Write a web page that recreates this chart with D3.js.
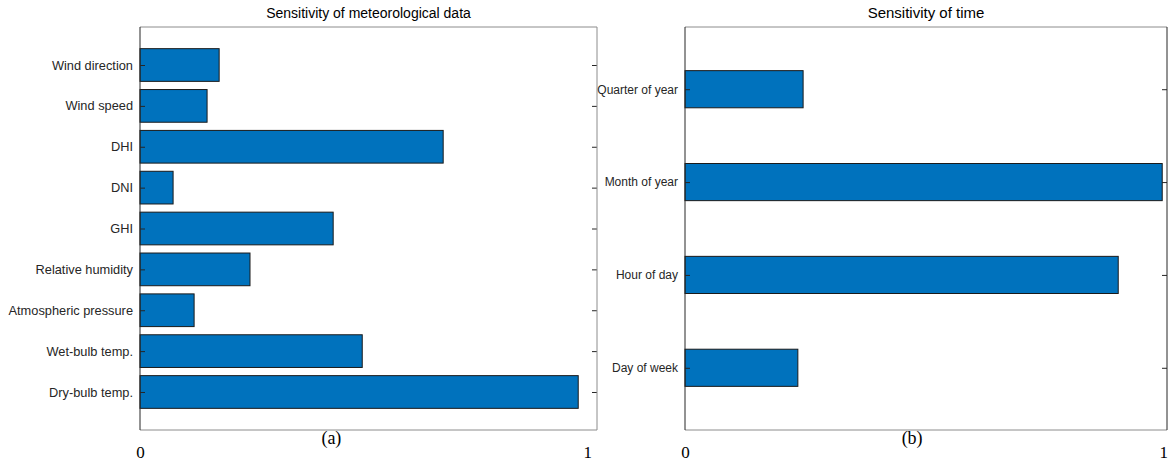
<!DOCTYPE html>
<html>
<head>
<meta charset="utf-8">
<script src="https://cdn.jsdelivr.net/npm/d3@7"></script>
<style>
  html, body { margin: 0; padding: 0; background: #fff; }
  svg { display: block; }
</style>
</head>
<body>
<svg id="chart" width="1173" height="461"></svg>
<script>
// ---- data ----
const metCategories = ["Dry-bulb temp.", "Wet-bulb temp.", "Atmospheric pressure", "Relative humidity", "GHI", "DNI", "DHI", "Wind speed", "Wind direction"];
const metValues = [0.980, 0.497, 0.121, 0.246, 0.432, 0.074, 0.678, 0.150, 0.177];
const timeCategories = ["Day of week", "Hour of day", "Month of year", "Quarter of year"];
const timeValues = [0.236, 0.906, 0.998, 0.247];
const xTickLabels = ["0", "1"];
const panelTitles = ["Sensitivity of meteorological data", "Sensitivity of time"];
const panelCaptions = ["(a)", "(b)"];

const svg = d3.select("#chart");
const sans = "'Liberation Sans', Arial, Helvetica, sans-serif";
const serif = "'Liberation Serif', 'Times New Roman', serif";
const barColor = "#0072BD";
const textColor = "#262626";

function drawPanel(cfg) {
  const { left, right, top, bottom, cats, vals, xMax, yPad, barW, title, caption, captionAt, rightDark, labelSize, titleSize } = cfg;
  const g = svg.append("g");
  const x = d3.scaleLinear().domain([0, xMax]).range([left, right]);
  const n = cats.length;
  const y = d3.scaleLinear().domain([1 - yPad, n + yPad]).range([bottom, top]);
  const bh = Math.abs(y(barW) - y(0));

  g.selectAll("rect.bar").data(vals).enter().append("rect")
    .attr("class", "bar")
    .attr("x", x(0))
    .attr("y", (d, i) => y(i + 1) - bh / 2)
    .attr("width", d => x(d) - x(0))
    .attr("height", bh)
    .attr("fill", barColor)
    .attr("stroke", "#1a1a1a")
    .attr("stroke-width", 1);

  const yAxisL = d3.axisLeft(y).tickValues(d3.range(1, n + 1)).tickSize(-5).tickPadding(7)
    .tickFormat((d) => cats[d - 1]);
  const gl = g.append("g").attr("transform", `translate(${left},0)`).call(yAxisL);
  gl.select(".domain").remove();
  gl.selectAll(".tick line").attr("stroke", textColor);
  gl.selectAll(".tick text").attr("font-family", sans).attr("font-size", labelSize).attr("fill", textColor);

  const yAxisR = d3.axisRight(y).tickValues(d3.range(1, n + 1)).tickSize(-5).tickFormat("");
  const gr = g.append("g").attr("transform", `translate(${right},0)`).call(yAxisR);
  gr.select(".domain").remove();
  gr.selectAll(".tick line").attr("stroke", textColor);

  const gray = "#8c8c8c";
  g.append("line").attr("x1", left).attr("x2", right).attr("y1", top).attr("y2", top).attr("stroke", gray);
  g.append("line").attr("x1", left).attr("x2", right).attr("y1", bottom).attr("y2", bottom).attr("stroke", gray);
  g.append("line").attr("x1", left).attr("x2", left).attr("y1", top).attr("y2", bottom).attr("stroke", textColor);
  g.append("line").attr("x1", right).attr("x2", right).attr("y1", top).attr("y2", bottom).attr("stroke", rightDark ? textColor : gray);

  g.append("text").attr("x", (left + right) / 2).attr("y", 18)
    .attr("text-anchor", "middle").attr("font-family", sans).attr("font-size", titleSize)
    .attr("fill", "#000").text(title);

  const xAxis = d3.axisBottom(x).tickValues([0, 1]).tickSize(0).tickPadding(0)
    .tickFormat((d, i) => xTickLabels[i]);
  const gx = g.append("g").attr("transform", `translate(0,${bottom})`).call(xAxis);
  gx.select(".domain").remove();
  gx.selectAll(".tick text").attr("font-family", serif).attr("font-size", 17)
    .attr("fill", "#000").attr("dy", null).attr("y", 28);

  g.append("text").attr("x", x(captionAt)).attr("y", 444)
    .attr("text-anchor", "middle").attr("font-family", serif).attr("font-size", 18)
    .attr("fill", "#000").text(caption);
}

drawPanel({
  left: 140, right: 597, top: 27, bottom: 430,
  cats: metCategories, vals: metValues, xMax: 1.022, yPad: 0.93, barW: 0.8,
  title: panelTitles[0], caption: panelCaptions[0], captionAt: 0.428, rightDark: false,
  labelSize: 12.8, titleSize: 14
});
drawPanel({
  left: 685, right: 1167, top: 27, bottom: 430,
  cats: timeCategories, vals: timeValues, xMax: 1.008, yPad: 0.67, barW: 0.4,
  title: panelTitles[1], caption: panelCaptions[1], captionAt: 0.475, rightDark: true,
  labelSize: 12, titleSize: 15
});
</script>
</body>
</html>
